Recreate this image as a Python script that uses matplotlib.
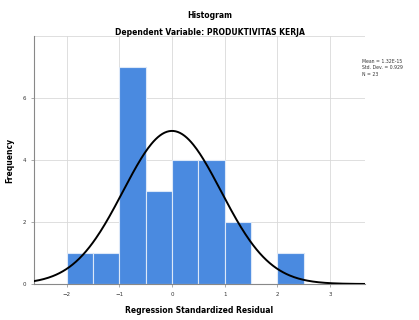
import numpy as np
import matplotlib.pyplot as plt

# histogram bins (regression standardized residual) and counts
bin_edges = [-2.0, -1.5, -1.0, -0.5, 0.0, 0.5, 1.0, 1.5, 2.0, 2.5]
counts = [1, 1, 7, 3, 4, 4, 2, 0, 1]
mean = 0.0
std_dev = 0.929
n = 23
stats_labels = ["Mean = 1.32E-15", "Std. Dev. = 0.929", "N = 23"]

fig = plt.figure(figsize=(4.19, 3.2), dpi=100)
ax = fig.add_axes([0.081, 0.1125, 0.79, 0.775])

lefts = np.array(bin_edges[:-1])
widths = np.diff(bin_edges)
ax.bar(lefts, counts, width=widths, align='edge', color='#4a8ae0',
       edgecolor='#dce8f8', linewidth=0.8, zorder=2)

# normal curve scaled to the histogram
xs = np.linspace(-2.62, 3.66, 300)
bw = widths[0]
ys = n * bw / (std_dev * np.sqrt(2 * np.pi)) * np.exp(-0.5 * ((xs - mean) / std_dev) ** 2)
ax.plot(xs, ys, color='black', linewidth=1.4, zorder=3)

ax.set_xlim(-2.62, 3.66)
ax.set_ylim(0, 8)
ax.set_xticks([-2, -1, 0, 1, 2, 3])
ax.set_yticks([0, 2, 4, 6])
ax.set_yticks([8], minor=True)
ax.grid(True, which='both', color='#d9d9d9', linewidth=0.6, zorder=0)
ax.set_axisbelow(True)
ax.tick_params(labelsize=4, length=2, width=0.5, color='#888888', labelcolor='#333333')
ax.tick_params(which='minor', length=0)
for s in ['top', 'right']:
    ax.spines[s].set_visible(False)
for s in ['left', 'bottom']:
    ax.spines[s].set_color('#888888')
    ax.spines[s].set_linewidth(0.8)

ax.set_xlabel('Regression Standardized Residual', fontsize=5.5, fontweight='bold', labelpad=7)
ax.set_ylabel('Frequency', fontsize=5.5, fontweight='bold', labelpad=6)

fig.text(0.5, 0.953, 'Histogram', ha='center', va='center', fontsize=5.5, fontweight='bold')
fig.text(0.5, 0.897, 'Dependent Variable: PRODUKTIVITAS KERJA', ha='center', va='center',
         fontsize=5.5, fontweight='bold')

for i, t in enumerate(stats_labels):
    fig.text(0.864, 0.808 - i * 0.02, t, ha='left', va='center', fontsize=3.3, color='#333333')

fig.savefig('out.png', dpi=100)
